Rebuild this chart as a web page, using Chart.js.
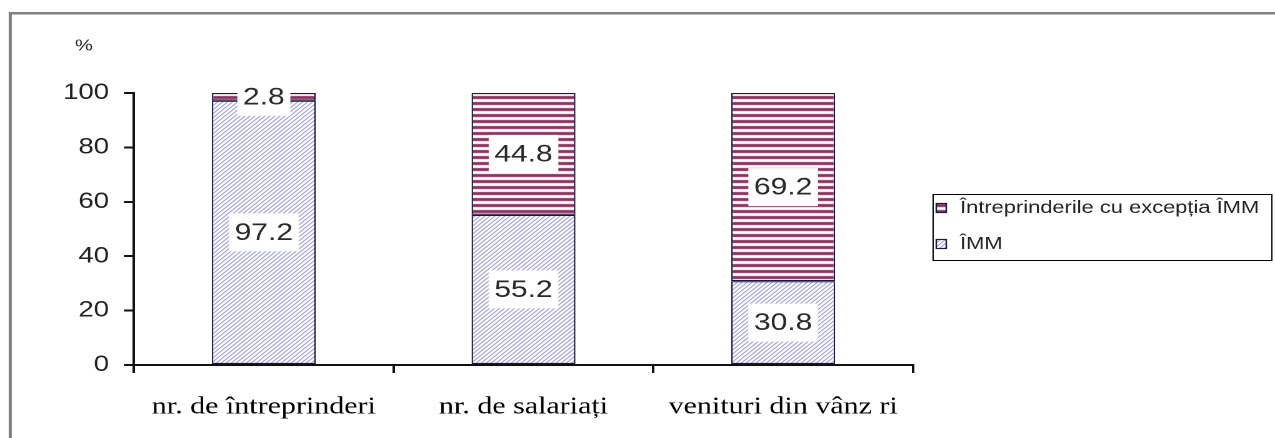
<!DOCTYPE html>
<html>
<head>
<meta charset="utf-8">
<script src="https://cdn.jsdelivr.net/npm/chart.js@4/dist/chart.umd.min.js"></script>
<style>
  html, body { margin: 0; padding: 0; background: #fff; overflow: hidden; }
  /* the source picture is a horizontally stretched scan, so draw narrow and stretch */
  #wrap { width: 1020px; height: 438px; position: relative; transform: scaleX(1.25); transform-origin: 0 0; }
</style>
</head>
<body>
<div id="wrap"><canvas id="chart"></canvas></div>
<script>
// categories and series (%)
const categories = ['nr. de întreprinderi', 'nr. de salariați', 'venituri din vânz ri'];
const seriesNames = ['ÎMM', 'Întreprinderile cu excepția ÎMM'];
const immValues = [97.2, 55.2, 30.8];
const otherValues = [2.8, 44.8, 69.2];
const yTicks = [0, 20, 40, 60, 80, 100];

const SANS = '"Liberation Sans", Arial, sans-serif';

// hatch fills like the old Excel patterns
function makeDiagonal() {
  const s = 4;
  const c = document.createElement('canvas');
  c.width = s * 4; c.height = s * 4;
  const g = c.getContext('2d');
  g.scale(4, 4);
  g.fillStyle = '#fff';
  g.fillRect(0, 0, s, s);
  g.strokeStyle = '#a3a3ea';
  g.lineWidth = 1.05;
  g.beginPath();
  g.moveTo(-1, s + 1); g.lineTo(s + 1, -1);
  g.moveTo(-1, 1); g.lineTo(1, -1);
  g.moveTo(s - 1, s + 1); g.lineTo(s + 1, s - 1);
  g.stroke();
  const p = g.createPattern(c, 'repeat');
  p.setTransform(new DOMMatrix().scale(0.25));
  return p;
}

function makeStripes() {
  const c = document.createElement('canvas');
  c.width = 6; c.height = 6;
  const g = c.getContext('2d');
  g.fillStyle = '#fff';
  g.fillRect(0, 0, 6, 6);
  g.fillStyle = '#8e2f5e';
  g.fillRect(0, 0, 6, 3);
  return g.createPattern(c, 'repeat');
}

const diagFill = makeDiagonal();
const stripeFill = makeStripes();

// white boxes with the values in the middle of each segment
const valueLabels = {
  id: 'valueLabels',
  afterDatasetsDraw(chart) {
    const ctx = chart.ctx;
    ctx.save();
    ctx.font = '24px ' + SANS;
    ctx.textAlign = 'center';
    ctx.textBaseline = 'middle';
    chart.data.datasets.forEach((ds, i) => {
      const meta = chart.getDatasetMeta(i);
      meta.data.forEach((bar, j) => {
        const txt = String(ds.data[j]);
        const cy = (bar.y + bar.base) / 2;
        const w = ctx.measureText(txt).width + 9;
        const h = 38;
        ctx.fillStyle = '#fff';
        ctx.fillRect(bar.x - w / 2, cy - h / 2, w, h);
        ctx.fillStyle = '#2a2a2a';
        ctx.fillText(txt, bar.x, cy + 1);
      });
    });
    ctx.restore();
  }
};

// outer frame, % label and the boxed legend
const decorations = {
  id: 'decorations',
  afterDraw(chart) {
    const ctx = chart.ctx;
    ctx.save();
    ctx.strokeStyle = '#808080';
    ctx.lineWidth = 2.5;
    ctx.beginPath();
    ctx.moveTo(8.2, 445);
    ctx.lineTo(8.2, 13.2);
    ctx.lineTo(1030, 13.2);
    ctx.stroke();

    ctx.fillStyle = '#222';
    ctx.font = '16px ' + SANS;
    ctx.textAlign = 'left';
    ctx.textBaseline = 'middle';
    ctx.fillText('%', 60, 46);

    // legend
    ctx.strokeStyle = '#000';
    ctx.lineWidth = 1;
    ctx.strokeRect(746.5, 194.5, 271, 66);
    const items = [
      { label: seriesNames[1], fill: stripeFill, y: 208 },
      { label: seriesNames[0], fill: diagFill, y: 244 }
    ];
    ctx.font = '17.5px ' + SANS;
    items.forEach(it => {
      ctx.fillStyle = it.fill;
      ctx.fillRect(749, it.y - 4.5, 8, 9);
      ctx.strokeStyle = '#1a1a40';
      ctx.lineWidth = 1.2;
      ctx.strokeRect(749, it.y - 4.5, 8, 9);
      ctx.fillStyle = '#222';
      ctx.fillText(it.label, 768, it.y);
    });
    ctx.restore();
  }
};

new Chart(document.getElementById('chart'), {
  type: 'bar',
  data: {
    labels: categories,
    datasets: [
      {
        label: seriesNames[0],
        data: immValues,
        backgroundColor: diagFill,
        borderColor: '#1a1a40',
        borderWidth: 1.2,
        borderSkipped: false,
        barPercentage: 0.4,
        categoryPercentage: 1
      },
      {
        label: seriesNames[1],
        data: otherValues,
        backgroundColor: stripeFill,
        borderColor: '#1a1a40',
        borderWidth: 1.2,
        borderSkipped: false,
        barPercentage: 0.4,
        categoryPercentage: 1
      }
    ]
  },
  options: {
    responsive: true,
    maintainAspectRatio: false,
    animation: false,
    devicePixelRatio: 2,
    layout: { padding: { left: 0, top: 93, right: 289.6, bottom: 0 } },
    plugins: {
      legend: { display: false },
      tooltip: { enabled: false }
    },
    scales: {
      x: {
        stacked: true,
        grid: { display: true, drawOnChartArea: false, drawTicks: true, tickLength: 8, color: '#111', lineWidth: 2 },
        border: { color: '#111', width: 2 },
        ticks: {
          color: '#000',
          padding: 20,
          font: { family: '"Liberation Serif", "Times New Roman", serif', size: 24 }
        },
        afterFit(scale) { scale.height = 73; }
      },
      y: {
        stacked: true,
        min: 0,
        max: 100,
        afterBuildTicks(scale) { scale.ticks = yTicks.map(v => ({ value: v })); },
        grid: { display: true, drawOnChartArea: false, drawTicks: true, tickLength: 8, color: '#111', lineWidth: 2 },
        border: { color: '#111', width: 2 },
        ticks: {
          color: '#222',
          padding: 12,
          font: { family: SANS, size: 22 }
        },
        afterFit(scale) { scale.width = 107.2; }
      }
    }
  },
  plugins: [valueLabels, decorations]
});
</script>
</body>
</html>
